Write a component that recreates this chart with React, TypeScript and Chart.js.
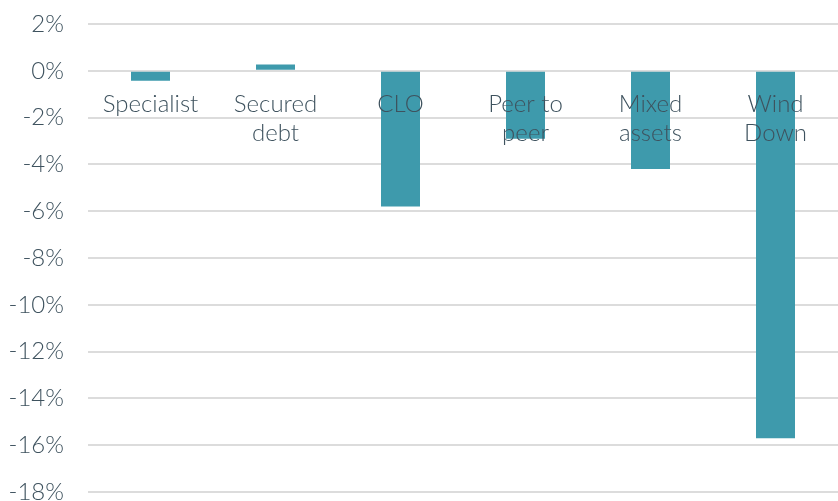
import React, { useEffect, useRef } from "react";
import { Chart, registerables } from "chart.js";

Chart.register(...registerables);

const categories: string[][] = [
  ["Specialist"],
  ["Secured", "debt"],
  ["CLO"],
  ["Peer to", "peer"],
  ["Mixed", "assets"],
  ["Wind", "Down"],
];
const values: number[] = [-0.43, 0.27, -5.8, -2.9, -4.2, -15.7];
const yMin = -18;
const yMax = 2;
const yStep = 2;

const TEXT = "#3e525e";
const BAR = "#3e9aac";
const GRID = "#dcdcdc";
const FONT = "Lato";

export default function App() {
  const ref = useRef<HTMLCanvasElement | null>(null);
  useEffect(() => {
    document.body.style.margin = "0";
    const ctx = ref.current!;
    const chart = new Chart(ctx, {
      type: "bar",
      data: {
        labels: categories,
        datasets: [
          {
            data: values,
            backgroundColor: BAR,
            borderWidth: 0,
            categoryPercentage: 1,
            barPercentage: 0.312,
          },
        ],
      },
      options: {
        responsive: false,
        animation: false,
        events: [],
        layout: { padding: { top: 24, bottom: 9, left: 0, right: 0 } },
        plugins: { legend: { display: false }, tooltip: { enabled: false } },
        scales: {
          x: {
            position: { y: 0 } as any,
            grid: { display: false, drawTicks: false },
            border: { display: false },
            afterFit: (s: any) => {
              s.height = 0;
              s.paddingLeft = 0;
              s.paddingRight = 0;
              s.paddingTop = 0;
              s.paddingBottom = 0;
            },
            ticks: {
              z: 1,
              color: TEXT,
              font: { family: FONT, size: 24, weight: 300 as any, lineHeight: 1.2 },
              padding: 19,
              maxRotation: 0,
              autoSkip: false,
            },
          },
          y: {
            min: yMin,
            max: yMax,
            border: { display: false },
            grid: { color: GRID, lineWidth: 2, drawTicks: false },
            afterFit: (s: any) => {
              s.width = 88;
              s.paddingTop = 0;
              s.paddingBottom = 0;
            },
            ticks: {
              stepSize: yStep,
              color: TEXT,
              font: { family: FONT, size: 24, weight: 300 as any },
              padding: 24,
              callback: (v: any) => `${v}%`,
            },
          },
        },
      },
    });
    return () => chart.destroy();
  }, []);
  return (
    <div style={{ width: 838, height: 501 }}>
      <canvas ref={ref} width={838} height={501} style={{ display: "block" }} />
    </div>
  );
}
